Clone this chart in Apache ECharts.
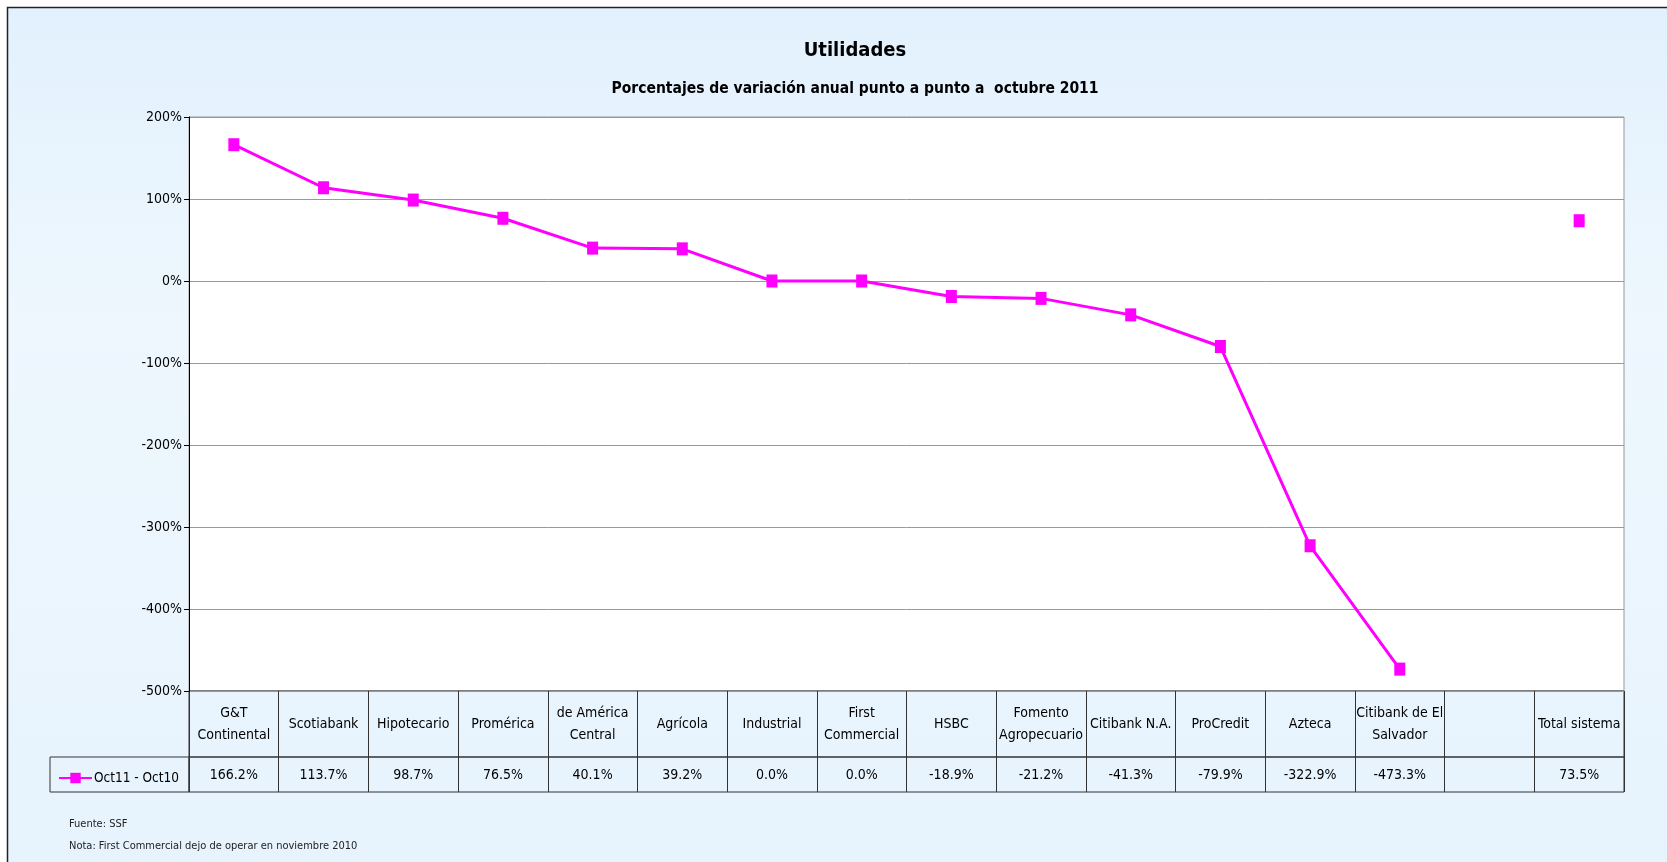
<!DOCTYPE html>
<html>
<head>
<meta charset="utf-8">
<script src="https://cdn.jsdelivr.net/npm/echarts@6/dist/echarts.min.js"></script>
<style>
  html, body { margin: 0; padding: 0; background: #fff; }
  #chart { width: 1667px; height: 862px; }
</style>
</head>
<body>
<div id="chart"></div>
<script>
var categories = ['G&T\nContinental', 'Scotiabank', 'Hipotecario', 'Promérica', 'de América\nCentral', 'Agrícola', 'Industrial', 'First\nCommercial', 'HSBC', 'Fomento\nAgropecuario', 'Citibank N.A.', 'ProCredit', 'Azteca', 'Citibank de El\nSalvador', '', 'Total sistema']
var values = [166.2, 113.7, 98.7, 76.5, 40.1, 39.2, 0.0, 0.0, -18.9, -21.2, -41.3, -79.9, -322.9, -473.3, null, 73.5]
var seriesName = 'Oct11 - Oct10'
var yMin = -500
var yMax = 200
var yStep = 100

var font = "'DejaVu Sans Condensed', 'Liberation Sans Narrow', sans-serif"
var tableLabels = values.map(function(v) {
  return v === null ? '' : v.toFixed(1) + '%'
})

var chart = echarts.init(document.getElementById('chart'))
chart.setOption({
  animation: false,
  textStyle: { fontFamily: font },
  graphic: [{
    type: 'rect',
    z: -10,
    shape: { x: 7.5, y: 7.5, width: 1700, height: 900 },
    style: {
      fill: new echarts.graphic.LinearGradient(0, 0, 0, 1, [
        { offset: 0, color: '#e2f1fd' },
        { offset: 0.35, color: '#eef7fe' },
        { offset: 1, color: '#e6f3fd' }
      ]),
      stroke: '#222',
      lineWidth: 1.5
    }
  }],
  title: [{
    text: 'Utilidades',
    left: 850,
    top: 36,
    textAlign: 'center',
    textStyle: { fontFamily: font, fontSize: 20, fontWeight: 'bold', color: '#000' }
  }, {
    text: 'Porcentajes de variación anual punto a punto a  octubre 2011',
    left: 850,
    top: 76,
    textAlign: 'center',
    textStyle: { fontFamily: font, fontSize: 15.5, fontWeight: 'bold', color: '#000' }
  }, {
    text: 'Fuente: SSF',
    left: 64,
    top: 814,
    textStyle: { fontFamily: font, fontSize: 11, fontWeight: 'normal', color: '#222' }
  }, {
    text: 'Nota: First Commercial dejo de operar en noviembre 2010',
    left: 64,
    top: 836,
    textStyle: { fontFamily: font, fontSize: 11, fontWeight: 'normal', color: '#222' }
  }],
  legend: {
    data: [seriesName],
    left: 53,
    top: 766,
    itemWidth: 33,
    itemHeight: 13,
    itemGap: 4,
    selectedMode: false,
    textStyle: { fontFamily: font, fontSize: 13.5, color: '#000', padding: [0, 0, 0, -3] }
  },
  grid: [
    { left: 189, right: 43, top: 117, bottom: 171, show: true, backgroundColor: '#fff', borderColor: '#999', borderWidth: 1 },
    { left: 189, right: 43, top: 691, height: 66, show: true, borderColor: '#333', borderWidth: 1 },
    { left: 189, right: 43, top: 757, height: 35, show: true, borderColor: '#333', borderWidth: 1 },
    { left: 50, width: 139, top: 757, height: 35, show: true, borderColor: '#333', borderWidth: 1 }
  ],
  xAxis: [{
    gridIndex: 0,
    type: 'category',
    data: categories,
    boundaryGap: true,
    axisLine: { show: false },
    axisTick: { show: false },
    axisLabel: { show: false },
    splitLine: { show: false }
  }, {
    gridIndex: 1,
    type: 'category',
    data: categories,
    boundaryGap: true,
    axisLine: { show: false },
    axisTick: { show: false },
    axisLabel: {
      inside: true,
      interval: 0,
      margin: 33,
      verticalAlign: 'middle',
      fontFamily: font,
      fontSize: 14,
      lineHeight: 22,
      color: '#000'
    },
    splitLine: { show: true, interval: 0, lineStyle: { color: '#333', width: 1 } }
  }, {
    gridIndex: 2,
    type: 'category',
    data: tableLabels,
    boundaryGap: true,
    axisLine: { show: false },
    axisTick: { show: false },
    axisLabel: {
      inside: true,
      interval: 0,
      margin: 17,
      verticalAlign: 'middle',
      fontFamily: font,
      fontSize: 14,
      color: '#000'
    },
    splitLine: { show: true, interval: 0, lineStyle: { color: '#333', width: 1 } }
  }, {
    gridIndex: 3,
    type: 'category',
    data: [''],
    show: false
  }],
  yAxis: [{
    gridIndex: 0,
    type: 'value',
    min: yMin,
    max: yMax,
    interval: yStep,
    axisLine: { show: true, lineStyle: { color: '#000', width: 1 } },
    axisTick: { show: true, length: 5, lineStyle: { color: '#000' } },
    axisLabel: {
      formatter: '{value}%',
      margin: 7,
      fontFamily: font,
      fontSize: 14,
      color: '#000'
    },
    splitLine: { show: true, lineStyle: { color: '#999', width: 1 } }
  }, {
    gridIndex: 1, type: 'value', show: false, splitLine: { show: false }
  }, {
    gridIndex: 2, type: 'value', show: false, splitLine: { show: false }
  }, {
    gridIndex: 3, type: 'value', show: false, splitLine: { show: false }
  }],
  series: [{
    name: seriesName,
    type: 'line',
    xAxisIndex: 0,
    yAxisIndex: 0,
    data: values,
    connectNulls: false,
    symbol: 'rect',
    symbolSize: [11, 13],
    showAllSymbol: true,
    lineStyle: { color: '#ff00ff', width: 3 },
    itemStyle: { color: '#ff00ff' }
  }]
})
</script>
</body>
</html>
